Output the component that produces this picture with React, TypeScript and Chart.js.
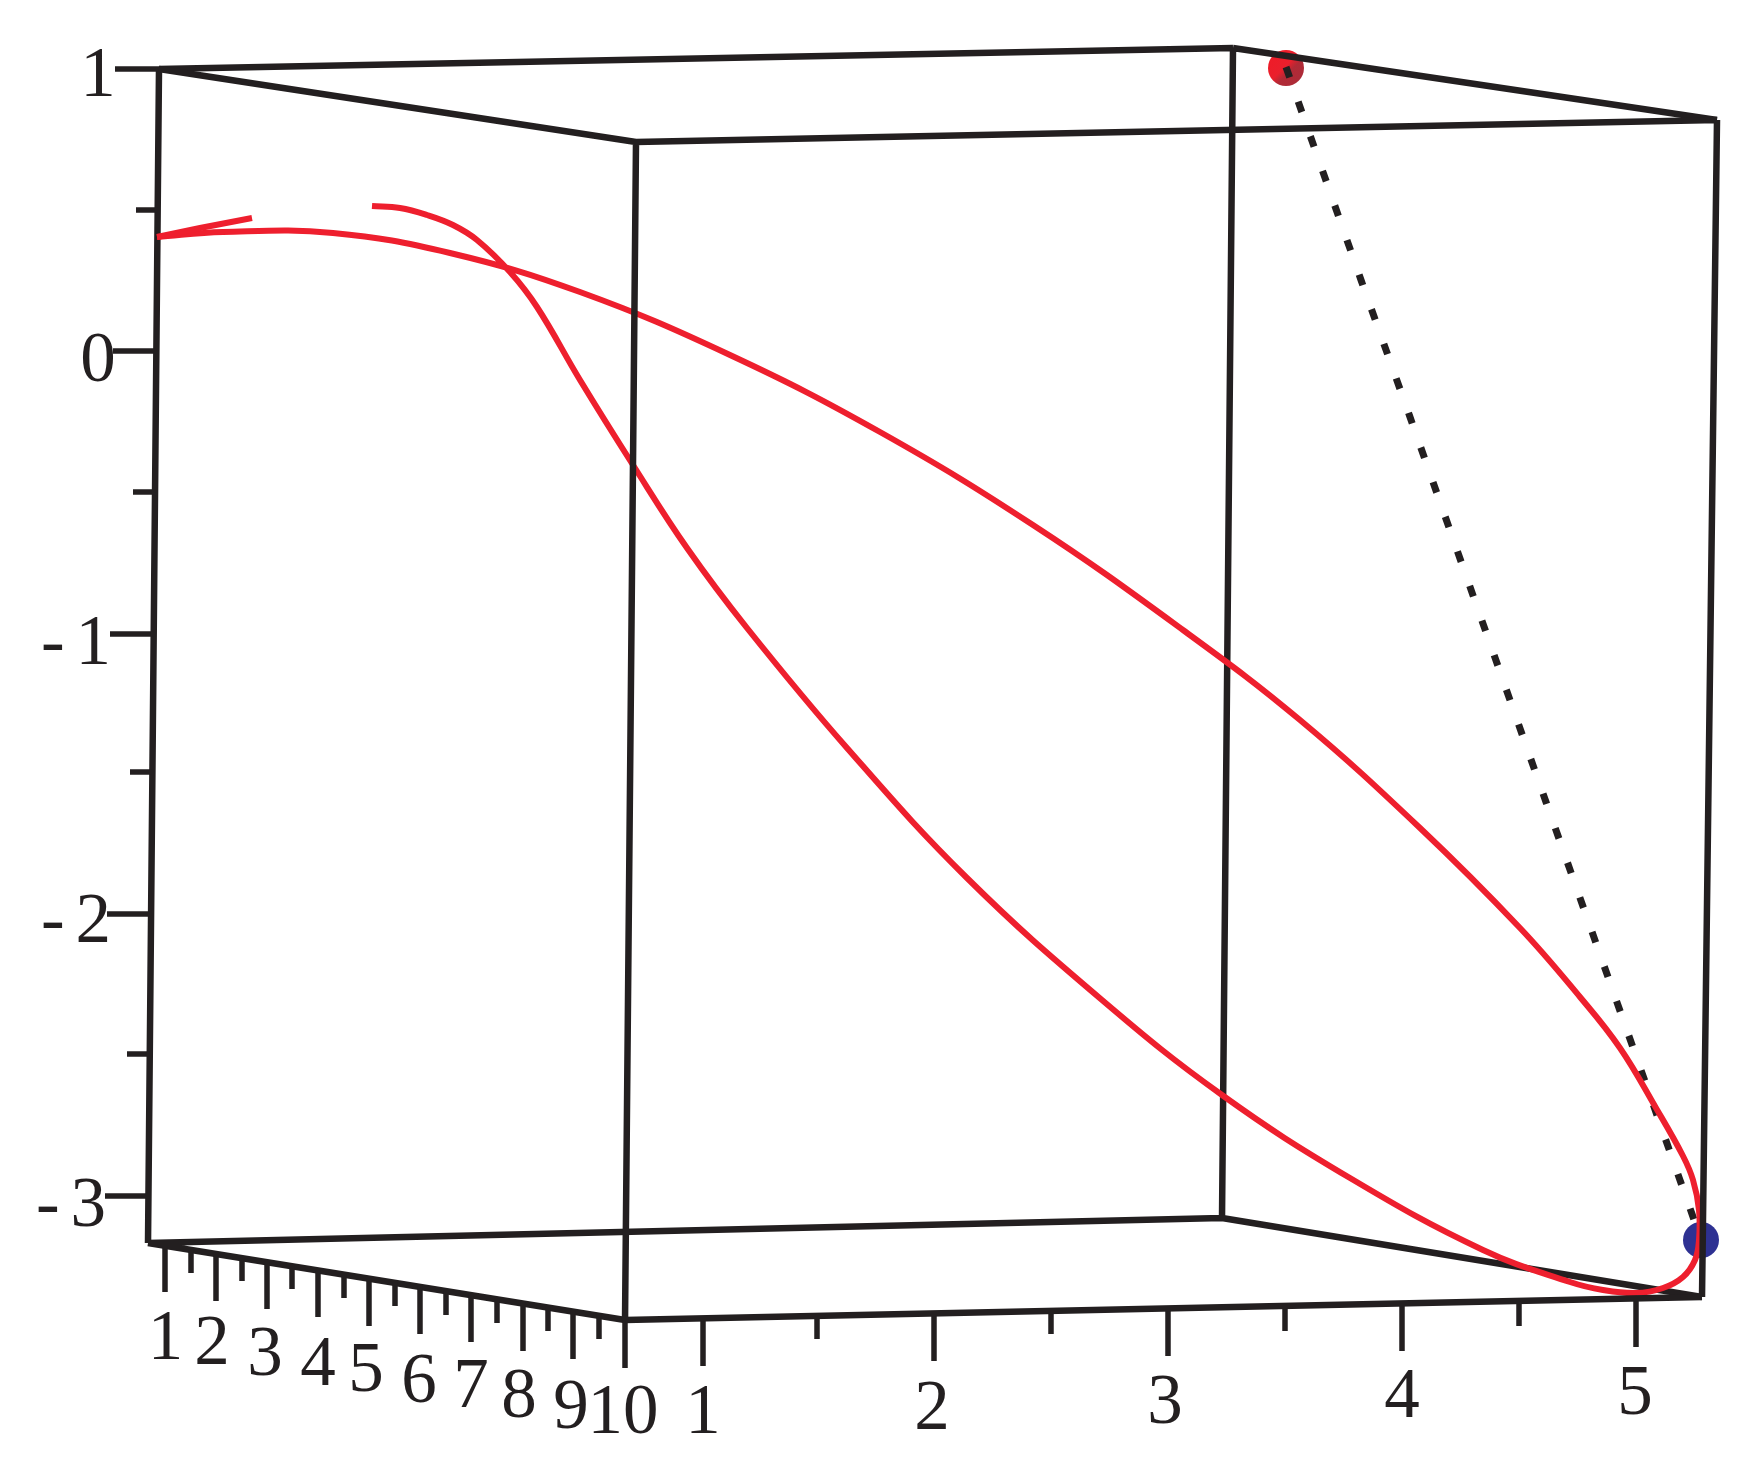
import React, { useEffect, useRef } from "react";
import { Chart, registerables } from "chart.js";

Chart.register(...registerables);

const curveX = [372,400,427,453,477,510,537,580,633,687,747,847,967,1102,1222,1350,1483,1570,1603,1636,1663,1683,1695,1699,1699,1693,1683,1656,1620,1580,1520,1420,1300,1183,1033,880,730,580,450,333,223,157];
const curveY = [206,208,215,225,240,272,307,380,465,548,628,748,878,1000,1095,1178,1250,1282,1290,1293,1288,1277,1260,1240,1210,1180,1156,1108,1048,997,928,828,720,630,525,432,355,292,253,233,232,237];
const barbX = [157, 200, 252];
const barbY = [237, 228, 218];
const dottedX = [1286, 1361, 1410, 1546, 1692, 1701];
const dottedY = [67, 280, 417, 802, 1214, 1240];

// Box corners
const A = [159, 69], B = [1233, 48], C = [636, 142], D = [1717, 120];
const E = [1702, 1297], F = [1222, 1218], G = [625, 1320], H = [148, 1243];
const backEdges = [[A, B], [B, D], [A, H], [B, F], [H, F], [F, E], [G, H]];
const frontEdges = [[C, A], [C, D], [C, G], [D, E], [G, E]];

// z axis ticks
const zTickY = [69, 210, 351, 492, 634, 772, 914, 1054, 1196];
const zTickLeft = [115, 136, 113, 133, 110, 130, 107, 127, 105];
const zTickRight = [159, 158, 156, 155, 154, 152, 151, 149, 148];

// depth axis ticks
const dTickX = [165, 191, 216, 242, 267, 292, 318, 344, 369, 395, 420, 446, 471, 497, 523, 548, 573, 599, 625];
const dTickTop = [1246, 1250, 1254, 1258, 1262, 1266, 1270, 1274, 1278, 1282, 1286, 1290, 1294, 1298, 1302, 1306, 1310, 1314, 1318];
const dTickBottom = [1292, 1273, 1301, 1281, 1309, 1289, 1317, 1298, 1326, 1306, 1334, 1315, 1342, 1323, 1351, 1331, 1359, 1339, 1368];

// front axis ticks
const fTickX = [703, 817, 934, 1051, 1168, 1285, 1402, 1519, 1636];
const fTickTop = [1318, 1316, 1313, 1311, 1308, 1305, 1303, 1300, 1298];
const fTickBottom = [1366, 1339, 1361, 1334, 1356, 1331, 1351, 1326, 1347];

// tick labels
const labelText = ["1","2","3","4","5","6","7","8","9","10","1","2","3","4","5","1","0"];
const labelX = [165.5,212,265,318,366,419,471,519,571,623,703,932,1165,1402,1635,98,98];
const labelY = [1359,1364,1375,1385,1391,1402,1407,1417,1428,1433,1433,1429,1423,1417,1414,96,381];
const negText = ["- 1", "- 2", "- 3"];
const negX = [41, 41, 36];
const negY = [664, 942, 1226];

const startPoint = [1286, 68];
const endPoint = [1701, 1240];

const INK = "#231f20";
const RED = "#ee1f2e";
const BLUE = "#2e3192";
const FONT = '71px "Liberation Serif"';

const gap = { x: NaN, y: NaN };
const zip = (xs: number[], ys: number[]) => xs.map((x, i) => ({ x, y: ys[i] }));
const edges = (list: number[][][]) =>
  list.flatMap(([p, q]) => [{ x: p[0], y: p[1] }, { x: q[0], y: q[1] }, gap]);
const hTicks = (ys: number[], l: number[], r: number[]) =>
  ys.flatMap((y, i) => [{ x: l[i], y }, { x: r[i], y }, gap]);
const vTicks = (xs: number[], t: number[], b: number[]) =>
  xs.flatMap((x, i) => [{ x, y: t[i] }, { x, y: b[i] }, gap]);

const textPlugin = {
  id: "boxLabels",
  afterDatasetsDraw(chart: any) {
    const { ctx, scales } = chart;
    ctx.save();
    ctx.fillStyle = INK;
    ctx.font = FONT;
    ctx.textBaseline = "alphabetic";
    ctx.textAlign = "center";
    labelText.forEach((t, i) => {
      ctx.fillText(t, scales.x.getPixelForValue(labelX[i]), scales.y.getPixelForValue(labelY[i]));
    });
    ctx.textAlign = "left";
    ctx.letterSpacing = "-3.5px";
    negText.forEach((t, i) => {
      ctx.fillText(t, scales.x.getPixelForValue(negX[i]), scales.y.getPixelForValue(negY[i]));
    });
    ctx.restore();
  },
};

const lineSet = (data: any[], color: string, width: number, extra: any = {}) => ({
  data,
  showLine: true,
  borderColor: color,
  borderWidth: width,
  pointRadius: 0,
  spanGaps: false,
  fill: false,
  tension: 0,
  ...extra,
});

export default function App() {
  const ref = useRef<HTMLCanvasElement | null>(null);

  useEffect(() => {
    if (!ref.current) return;
    const chart = new Chart(ref.current, {
      type: "scatter",
      data: {
        datasets: [
          lineSet(edges(frontEdges), INK, 6.5),
          lineSet(hTicks(zTickY, zTickLeft, zTickRight), INK, 5.5),
          lineSet(vTicks(dTickX, dTickTop, dTickBottom), INK, 5.5),
          lineSet(vTicks(fTickX, fTickTop, fTickBottom), INK, 5.5),
          lineSet(zip(barbX, barbY), RED, 6),
          lineSet(zip(curveX, curveY), RED, 6, { tension: 0.4 }),
          lineSet(zip(dottedX, dottedY), INK, 7, { borderDash: [11, 25.7] }),
          lineSet(edges(backEdges), INK, 6.5),
          {
            data: [{ x: startPoint[0], y: startPoint[1] }],
            showLine: false,
            pointRadius: 18,
            pointBorderWidth: 0,
            backgroundColor: (c: any) => {
              const { ctx, scales } = c.chart;
              const px = scales.x ? scales.x.getPixelForValue(startPoint[0]) : NaN;
              const py = scales.y ? scales.y.getPixelForValue(startPoint[1]) : NaN;
              if (!Number.isFinite(px) || !Number.isFinite(py)) return RED;
              const g = ctx.createLinearGradient(px - 12, py - 12, px + 12, py + 12);
              g.addColorStop(0, "#ee1c28");
              g.addColorStop(0.45, "#ea1f2c");
              g.addColorStop(0.65, "#b12a36");
              g.addColorStop(1, "#ad2b38");
              return g;
            },
          },
          {
            data: [{ x: endPoint[0], y: endPoint[1] }],
            showLine: false,
            pointRadius: 18,
            pointBorderWidth: 0,
            backgroundColor: BLUE,
          },
        ] as any,
      },
      options: {
        responsive: false,
        animation: false,
        devicePixelRatio: 1,
        layout: { padding: 0, autoPadding: false },
        clip: false,
        plugins: { legend: { display: false }, tooltip: { enabled: false }, title: { display: false } },
        scales: {
          x: { type: "linear", display: false, min: 0, max: 1753 },
          y: { type: "linear", display: false, min: 0, max: 1473, reverse: true },
        },
      } as any,
      plugins: [textPlugin],
    });
    return () => chart.destroy();
  }, []);

  return (
    <div style={{ position: "fixed", left: 0, top: 0, width: 1753, height: 1473, background: "#ffffff" }}>
      <canvas ref={ref} width={1753} height={1473} style={{ display: "block" }} />
    </div>
  );
}
